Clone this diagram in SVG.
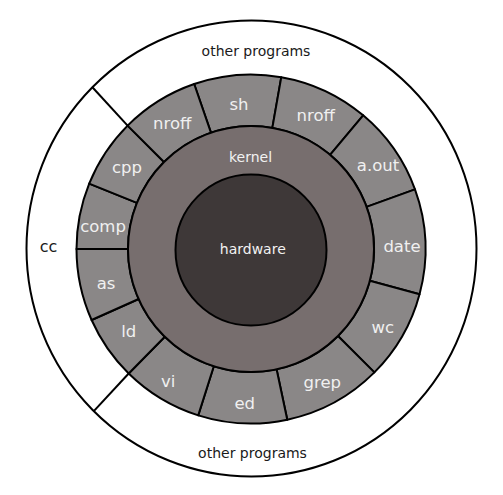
<svg xmlns="http://www.w3.org/2000/svg" width="503" height="495" viewBox="0 0 503 495">
<style>
.seg{fill:#8a8787;stroke:#000;stroke-width:2;stroke-linejoin:round}
.lbl{font-family:"DejaVu Sans",sans-serif;font-size:16.5px;fill:#f0f0f0;text-anchor:middle}
.in{font-family:"DejaVu Sans",sans-serif;font-size:14px;fill:#f2f2f2;text-anchor:middle}
.out{font-family:"DejaVu Sans",sans-serif;font-size:14px;fill:#1a1a1a;text-anchor:middle}
.ln{stroke:#000;stroke-width:2;fill:none}
</style>
<rect width="503" height="495" fill="#fff"/>
<g id="other-programs">
<ellipse cx="251.5" cy="248.5" rx="225" ry="228" fill="#fff" stroke="#000" stroke-width="2"/>
<text class="out" x="256" y="55.5">other programs</text>
<text class="out" x="252.5" y="457.5">other programs</text>
</g>
<g id="cc">
<text class="out" x="48.5" y="251.5" style="font-size:16px">cc</text>
</g>
<g id="connectors">
<line class="ln" x1="127.61" y1="125.61" x2="92.4" y2="87.3"/>
<line class="ln" x1="128.69" y1="373.47" x2="93.8" y2="411.1"/>
</g>
<g id="sh"><path class="seg" d="M210.95,132.70 L194.18,84.01 A174.5,174.5 0 0 1 281.29,77.15 L272.35,127.87 A123,123 0 0 0 210.95,132.70 Z"/><text class="lbl" x="239" y="109.5">sh</text></g>
<g id="nroff-right"><path class="seg" d="M272.35,127.87 L281.29,77.15 A174.5,174.5 0 0 1 363.17,115.33 L330.06,154.78 A123,123 0 0 0 272.35,127.87 Z"/><text class="lbl" x="315.7" y="121">nroff</text></g>
<g id="a-out"><path class="seg" d="M330.06,154.78 L363.17,115.33 A174.5,174.5 0 0 1 414.98,189.32 L366.58,206.93 A123,123 0 0 0 330.06,154.78 Z"/><text class="lbl" x="378" y="170.7">a.out</text></g>
<g id="date"><path class="seg" d="M366.58,206.93 L414.98,189.32 A174.5,174.5 0 0 1 419.55,294.16 L369.81,280.83 A123,123 0 0 0 366.58,206.93 Z"/><text class="lbl" x="402" y="251.7">date</text></g>
<g id="wc"><path class="seg" d="M369.81,280.83 L419.55,294.16 A174.5,174.5 0 0 1 374.39,372.39 L337.97,335.97 A123,123 0 0 0 369.81,280.83 Z"/><text class="lbl" x="382.7" y="333.3">wc</text></g>
<g id="grep"><path class="seg" d="M337.97,335.97 L374.39,372.39 A174.5,174.5 0 0 1 287.28,419.68 L276.57,369.31 A123,123 0 0 0 337.97,335.97 Z"/><text class="lbl" x="322.3" y="388.3">grep</text></g>
<g id="ed"><path class="seg" d="M276.57,369.31 L287.28,419.68 A174.5,174.5 0 0 1 198.23,415.33 L213.80,366.24 A123,123 0 0 0 276.57,369.31 Z"/><text class="lbl" x="244.7" y="409.3">ed</text></g>
<g id="vi"><path class="seg" d="M213.80,366.24 L198.23,415.33 A174.5,174.5 0 0 1 128.69,373.47 L164.79,336.74 A123,123 0 0 0 213.80,366.24 Z"/><text class="lbl" x="168.3" y="386.7">vi</text></g>
<g id="ld"><path class="seg" d="M164.79,336.74 L128.69,373.47 A174.5,174.5 0 0 1 91.59,319.97 L138.64,299.02 A123,123 0 0 0 164.79,336.74 Z"/><text class="lbl" x="128.7" y="337.3">ld</text></g>
<g id="as"><path class="seg" d="M138.64,299.02 L91.59,319.97 A174.5,174.5 0 0 1 76.5,249 L128,249 A123,123 0 0 0 138.64,299.02 Z"/><text class="lbl" x="106" y="288.7">as</text></g>
<g id="comp"><path class="seg" d="M128,249 L76.5,249 A174.5,174.5 0 0 1 89.20,183.63 L136.95,202.92 A123,123 0 0 0 128,249 Z"/><text class="lbl" x="103" y="231.7">comp</text></g>
<g id="cpp"><path class="seg" d="M136.95,202.92 L89.20,183.63 A174.5,174.5 0 0 1 127.61,125.61 L164.03,162.03 A123,123 0 0 0 136.95,202.92 Z"/><text class="lbl" x="127" y="172.7">cpp</text></g>
<g id="nroff-left"><path class="seg" d="M164.03,162.03 L127.61,125.61 A174.5,174.5 0 0 1 194.18,84.01 L210.95,132.70 A123,123 0 0 0 164.03,162.03 Z"/><text class="lbl" x="172.2" y="129.3">nroff</text></g>
<g id="kernel">
<circle cx="251" cy="249" r="123" fill="#776e6e" stroke="#000" stroke-width="2"/>
<text class="in" x="250.5" y="162.3">kernel</text>
</g>
<g id="hardware">
<circle cx="251" cy="250" r="75.5" fill="#3e3838" stroke="#000" stroke-width="2"/>
<text class="in" x="252.8" y="254.3">hardware</text>
</g>
</svg>
